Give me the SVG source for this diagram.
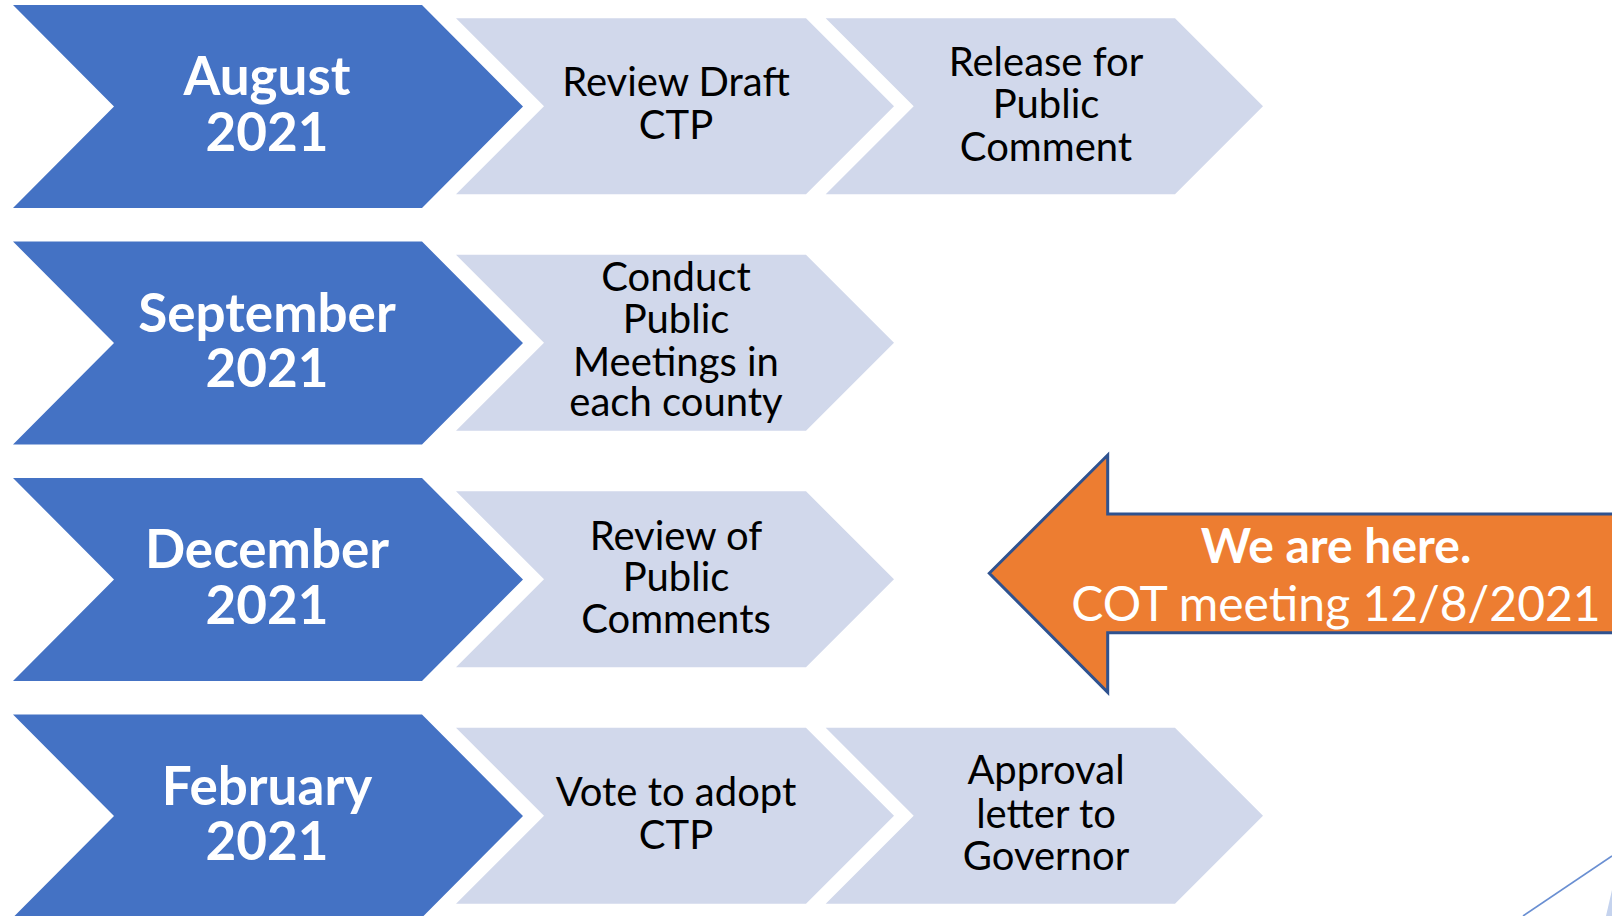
<svg xmlns="http://www.w3.org/2000/svg" width="1612" height="916" viewBox="0 0 1612 916">
<defs>
<style>
.blue{fill:#4472C4}
.light{fill:#D1D8EB}
.bt{font-family:Lato,"Open Sans","Liberation Sans",sans-serif;font-weight:bold;font-size:53px;fill:#FFFFFF;text-anchor:middle}
.lt{font-family:Lato,"Open Sans","Liberation Sans",sans-serif;font-size:40px;fill:#000000;text-anchor:middle}
.ot{font-family:Lato,"Open Sans","Liberation Sans",sans-serif;font-size:48px;fill:#FFFFFF;text-anchor:middle}
</style>
<polygon id="bchev" points="13,5 422,5 523,106.5 422,208 13,208 114,106.5"/>
<polygon id="lchev1" points="456,18.3 806,18.3 894,106.3 806,194.3 456,194.3 544,106.3"/>
<polygon id="lchev2" points="825.7,18.3 1175,18.3 1263,106.3 1175,194.3 825.7,194.3 913.7,106.3"/>
</defs>
<rect width="1612" height="916" fill="#FFFFFF"/>

<g id="row1">
<g id="aug2021"><use href="#bchev" class="blue"/><text class="bt" x="267" y="95">August</text><text class="bt" x="267" y="150.7">2021</text></g>
<g id="review-draft"><use href="#lchev1" class="light"/><text class="lt" x="676" y="96">Review Draft</text><text class="lt" x="676" y="139.3">CTP</text></g>
<g id="release"><use href="#lchev2" class="light"/><text class="lt" x="1046" y="75.5">Release for</text><text class="lt" x="1046" y="118">Public</text><text class="lt" x="1046" y="160.5">Comment</text></g>
</g>

<g id="row2" transform="translate(0,236.5)">
<g id="sep2021"><use href="#bchev" class="blue"/><text class="bt" x="267" y="95">September</text><text class="bt" x="267" y="150.7">2021</text></g>
<g id="conduct"><use href="#lchev1" class="light"/><text class="lt" x="676" y="54.5">Conduct</text><text class="lt" x="676" y="96.5">Public</text><text class="lt" x="676" y="139.5">Meetings in</text><text class="lt" x="676" y="179.5">each county</text></g>
</g>

<g id="row3" transform="translate(0,473)">
<g id="dec2021"><use href="#bchev" class="blue"/><text class="bt" x="267" y="95">December</text><text class="bt" x="267" y="150.7">2021</text></g>
<g id="review-comments"><use href="#lchev1" class="light"/><text class="lt" x="676" y="77">Review of</text><text class="lt" x="676" y="118">Public</text><text class="lt" x="676" y="160.3">Comments</text></g>
</g>

<g id="row4" transform="translate(0,709.5)">
<g id="feb2021"><use href="#bchev" class="blue"/><text class="bt" x="267" y="95">February</text><text class="bt" x="267" y="150.7">2021</text></g>
<g id="vote"><use href="#lchev1" class="light"/><text class="lt" x="676" y="96.5">Vote to adopt</text><text class="lt" x="676" y="139">CTP</text></g>
<g id="approval"><use href="#lchev2" class="light"/><text class="lt" x="1046" y="74">Approval</text><text class="lt" x="1046" y="118.3">letter to</text><text class="lt" x="1046" y="160.5">Governor</text></g>
</g>

<g id="we-are-here">
<path d="M989.3,573.3 L1107.7,455 L1107.7,514 L1630,514 L1630,632.7 L1107.7,632.7 L1107.7,692.3 Z" fill="#ED7D31" stroke="#2F528F" stroke-width="3" stroke-linejoin="miter"/>
<text class="ot" x="1336" y="563" font-weight="bold">We are here.</text>
<text class="ot" x="1336" y="621">COT meeting 12/8/2021</text>
</g>

<g id="connectors">
<line x1="1523" y1="916" x2="1612" y2="856" stroke="#6A8FD2" stroke-width="1.6"/>
<polygon points="1612,890 1606,916 1612,916" fill="#C5D3EE"/>
</g>
</svg>
